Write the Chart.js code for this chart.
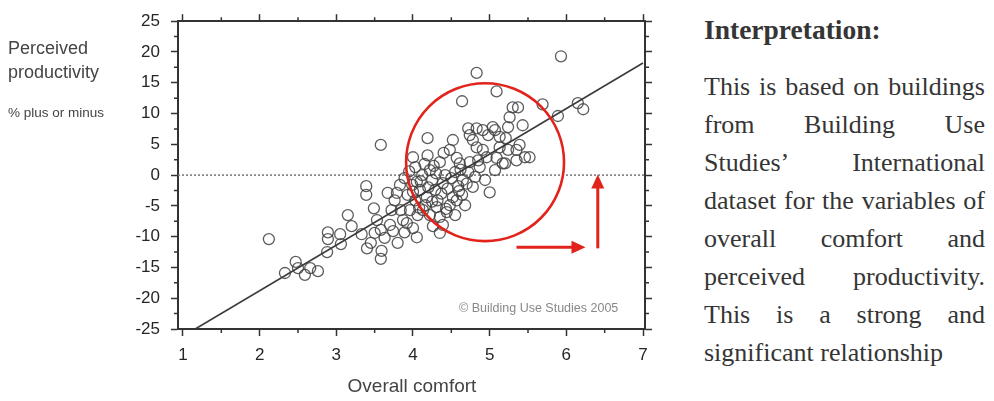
<!DOCTYPE html>
<html>
<head>
<meta charset="utf-8">
<script src="https://cdn.jsdelivr.net/npm/chart.js@4"></script>
<style>
  html, body { margin: 0; padding: 0; background: #fff; }
  #wrap { position: relative; width: 994px; height: 401px; overflow: hidden; font-family: "Liberation Sans", Arial, sans-serif; }
  #plot { position: absolute; left: 0; top: 0; }
  .lbl { position: absolute; white-space: nowrap; line-height: 1; color: #444; }
  #note { position: absolute; left: 704px; top: 16px; width: 281px; font-family: "Liberation Serif", "Times New Roman", serif; color: #353535; }
  #note .head { font-weight: bold; font-size: 27.5px; line-height: 1; }
  #note .body { position: absolute; left: 0; top: 51.5px; width: 281px; font-size: 26px; line-height: 38.1px; }
  #note .ln { white-space: nowrap; text-align: justify; text-align-last: justify; }
  #note .ln.last { text-align: left; text-align-last: left; }
</style>
</head>
<body>
<div id="wrap">
  <canvas id="plot" width="690" height="401"></canvas>

  <div class="lbl" style="left:8px; top:38.5px; font-size:18px;">Perceived</div>
  <div class="lbl" style="left:8px; top:62.5px; font-size:18px;">productivity</div>
  <div class="lbl" style="left:8px; top:106px; font-size:13.5px;">% plus or minus</div>
  <div class="lbl" style="left:412px; top:376px; font-size:19px; transform:translateX(-50%);">Overall comfort</div>
  <div class="lbl" style="left:459px; top:301.5px; font-size:12.5px; color:#888;">© Building Use Studies 2005</div>

  <div id="note">
    <div class="head">Interpretation:</div>
    <div class="body">
      <div class="ln">This is based on buildings</div>
      <div class="ln">from Building Use</div>
      <div class="ln">Studies’ International</div>
      <div class="ln">dataset for the variables of</div>
      <div class="ln">overall comfort and</div>
      <div class="ln">perceived productivity.</div>
      <div class="ln">This is a strong and</div>
      <div class="ln last">significant relationship</div>
    </div>
  </div>
</div>

<script>
// Overall comfort score per building (x) and perceived productivity, % plus or minus (y)
const comfort = [
  2.12, 2.33, 2.47, 2.50, 2.59, 2.66, 2.76, 2.88, 2.89, 2.89,
  3.05, 3.06, 3.15, 3.20, 3.39, 3.39, 3.40, 3.45, 3.49, 3.53,
  3.58, 3.59, 3.58, 3.63, 3.67, 3.79, 3.72, 3.84, 3.87, 3.80,
  4.05, 3.58, 3.70, 3.92, 4.13, 4.26, 4.35, 4.44, 4.00, 4.19,
  4.19, 4.03, 4.22, 4.35, 4.48, 4.52, 4.05, 4.18, 4.57, 4.61,
  4.65, 4.52, 4.55, 4.78, 4.94, 5.00, 4.87, 4.74, 4.83, 5.09,
  4.64, 5.30, 5.37, 5.26, 5.69, 5.89, 6.15, 6.22, 5.43, 5.93,
  4.74, 4.83, 4.98, 5.04, 5.13, 5.21, 5.46, 5.17, 4.83, 4.91,
  4.96, 5.24, 5.35, 5.07, 4.91, 4.72, 5.52, 5.39, 4.78, 5.13,
  5.35, 5.20, 5.24, 3.89, 3.99, 4.09, 3.93, 4.03, 4.16, 4.29,
  4.32, 4.39, 4.42, 4.55, 4.59, 4.64, 4.25, 4.12, 3.83, 3.76,
  3.96, 4.06, 4.22, 4.31, 4.48, 4.68, 4.72, 4.81, 4.85, 5.07,
  5.09, 3.33, 3.50, 3.74, 3.89, 4.39, 4.57, 4.35, 4.00, 4.10,
  4.20, 4.30, 4.37, 4.45, 4.50, 4.15, 4.27, 4.40, 4.62, 4.00,
  4.08, 4.25, 4.43, 4.60, 4.70, 3.95
];
const productivity = [
  -10.4, -15.9, -14.1, -15.1, -16.2, -15.1, -15.6, -12.5, -9.3, -10.4,
  -9.6, -11.2, -6.5, -8.3, -1.8, -3.2, -11.9, -11.0, -5.4, -7.3,
  -8.9, -12.3, -13.6, -10.2, -2.9, -2.9, -5.7, -5.7, -7.3, -11.0,
  -10.1, 4.9, -8.1, -7.8, -5.7, -8.3, -9.4, -6.0, 2.9, 6.0,
  3.2, 1.3, 0.8, 2.1, 4.1, 5.7, -1.1, -3.6, 2.8, 1.9,
  -0.8, -3.6, -6.5, -1.9, -0.8, -2.8, 1.3, 2.1, 16.6, 13.6,
  12.0, 11.0, 11.0, 9.4, 11.5, 9.6, 11.7, 10.7, 8.1, 19.3,
  6.5, 7.6, 6.5, 7.8, 6.2, 6.0, 2.9, 1.9, 4.5, 4.1,
  2.9, 4.1, 4.1, 7.3, 7.3, 7.6, 2.9, 4.9, 5.7, 4.5,
  2.4, 1.9, 7.8, -0.5, -1.6, -2.4, -3.2, -4.1, -4.9, -2.4,
  -4.1, -1.3, 0.0, 0.5, -1.8, -3.2, -0.8, 0.0, -1.6, -4.1,
  -5.7, -6.5, -6.5, -5.2, -4.9, -4.9, 0.5, -0.3, 2.4, 0.8,
  2.8, -9.6, -9.4, -9.1, -9.3, -8.1, -4.1, -6.8, -8.6, -1.0,
  -2.0, 0.3, -3.0, -2.2, -0.5, 1.8, 1.5, 3.6, 0.9, -2.7,
  -5.3, -4.3, -5.5, -2.6, -1.4, 0.6
];

// Fitted trend line (end points)
const fitComfort = [1.16, 7.0];
const fitProductivity = [-25, 18.2];

// Axis tick values
const xTicks = [1, 2, 3, 4, 5, 6, 7];
const xMinorTicks = [1.5, 2.5, 3.5, 4.5, 5.5, 6.5];
const yTicks = [-25, -20, -15, -10, -5, 0, 5, 10, 15, 20, 25];
const yMinorTicks = [-22.5, -17.5, -12.5, -7.5, -2.5, 2.5, 7.5, 12.5, 17.5, 22.5];

// Highlight: ring around the upper cluster and two arrows (data units)
const ring = { cx: 4.94, cy: 2.1, rx: 1.03 };
const arrows = [
  { from: [5.35, -11.7], to: [6.25, -11.7] },
  { from: [6.41, -11.9], to: [6.41, 0.1] }
];

const AXIS = '#333';
const RED = '#e2231c';

const decor = {
  id: 'decor',
  beforeDatasetsDraw(chart) {
    const { ctx, chartArea: a, scales: { y } } = chart;
    const y0 = y.getPixelForValue(0);
    ctx.save();
    ctx.strokeStyle = '#7d7d7d';
    ctx.lineWidth = 1.6;
    ctx.setLineDash([2, 2]);
    ctx.beginPath();
    ctx.moveTo(a.left, y0);
    ctx.lineTo(a.right, y0);
    ctx.stroke();
    ctx.restore();
  },
  afterDatasetsDraw(chart) {
    const { ctx, scales: { x, y } } = chart;
    ctx.save();
    // ring
    const cx = x.getPixelForValue(ring.cx), cy = y.getPixelForValue(ring.cy);
    const r = Math.abs(x.getPixelForValue(ring.cx + ring.rx) - cx);
    ctx.strokeStyle = RED;
    ctx.lineWidth = 2.6;
    ctx.beginPath();
    ctx.arc(cx, cy, r, 0, Math.PI * 2);
    ctx.stroke();
    // arrows
    ctx.fillStyle = RED;
    ctx.lineWidth = 3;
    arrows.forEach(ar => {
      const x1 = x.getPixelForValue(ar.from[0]), y1 = y.getPixelForValue(ar.from[1]);
      const x2 = x.getPixelForValue(ar.to[0]), y2 = y.getPixelForValue(ar.to[1]);
      const len = Math.hypot(x2 - x1, y2 - y1);
      const ux = (x2 - x1) / len, uy = (y2 - y1) / len;
      const head = 14, half = 6.5;
      const bx = x2 - ux * head, by = y2 - uy * head;
      ctx.beginPath();
      ctx.moveTo(x1, y1);
      ctx.lineTo(bx + ux, by + uy);
      ctx.stroke();
      ctx.beginPath();
      ctx.moveTo(x2, y2);
      ctx.lineTo(bx - uy * half, by + ux * half);
      ctx.lineTo(bx + uy * half, by - ux * half);
      ctx.closePath();
      ctx.fill();
    });
    ctx.restore();
  },
  afterDraw(chart) {
    const { ctx, chartArea: a, scales: { x, y } } = chart;
    const m = 4;
    ctx.save();
    ctx.strokeStyle = AXIS;
    ctx.lineWidth = 1.5;
    ctx.beginPath();
    xMinorTicks.forEach(v => {
      const px = x.getPixelForValue(v);
      ctx.moveTo(px, a.bottom); ctx.lineTo(px, a.bottom + m);
      ctx.moveTo(px, a.top); ctx.lineTo(px, a.top - m);
    });
    yMinorTicks.forEach(v => {
      const py = y.getPixelForValue(v);
      ctx.moveTo(a.left, py); ctx.lineTo(a.left - m, py);
      ctx.moveTo(a.right, py); ctx.lineTo(a.right + m, py);
    });
    ctx.stroke();
    ctx.restore();
  }
};

const xMin = 0.935, xMax = 7.026;
const gridOpts = { drawOnChartArea: false, drawTicks: true, tickLength: 7, tickColor: AXIS, tickWidth: 1.5 };
const borderOpts = { display: true, color: AXIS, width: 2 };
const tickFont = { family: '"Liberation Sans", Arial, sans-serif', size: 17 };

new Chart(document.getElementById('plot'), {
  data: {
    datasets: [
      {
        type: 'scatter',
        data: comfort.map((c, i) => ({ x: c, y: productivity[i] })),
        pointStyle: 'circle',
        pointRadius: 5.5,
        borderWidth: 1.3,
        borderColor: 'rgba(65,65,65,0.85)',
        backgroundColor: 'rgba(0,0,0,0)',
        order: 2
      },
      {
        type: 'line',
        data: fitComfort.map((c, i) => ({ x: c, y: fitProductivity[i] })),
        borderColor: '#3a3a3a',
        borderWidth: 1.6,
        pointRadius: 0,
        fill: false,
        order: 1
      }
    ]
  },
  options: {
    responsive: false,
    animation: false,
    devicePixelRatio: 1,
    layout: { padding: 0 },
    plugins: { legend: { display: false }, tooltip: { enabled: false } },
    scales: {
      x: {
        type: 'linear', position: 'bottom', min: xMin, max: xMax,
        afterBuildTicks: s => { s.ticks = xTicks.map(v => ({ value: v })); },
        afterFit: s => { s.height = 72; },
        grid: gridOpts, border: borderOpts,
        ticks: { font: tickFont, color: '#262626', padding: 9, maxRotation: 0, autoSkip: false }
      },
      x2: {
        type: 'linear', position: 'top', min: xMin, max: xMax,
        afterBuildTicks: s => { s.ticks = xTicks.map(v => ({ value: v })); },
        afterFit: s => { s.height = 21; },
        grid: gridOpts, border: borderOpts,
        ticks: { display: false }
      },
      y: {
        type: 'linear', position: 'left', min: -25, max: 25,
        afterBuildTicks: s => { s.ticks = yTicks.map(v => ({ value: v })); },
        afterFit: s => { s.width = 178; },
        grid: gridOpts, border: borderOpts,
        ticks: { font: tickFont, color: '#262626', padding: 11, autoSkip: false }
      },
      y2: {
        type: 'linear', position: 'right', min: -25, max: 25,
        afterBuildTicks: s => { s.ticks = yTicks.map(v => ({ value: v })); },
        afterFit: s => { s.width = 45; },
        grid: gridOpts, border: borderOpts,
        ticks: { display: false }
      }
    }
  },
  plugins: [decor]
});
</script>
</body>
</html>
